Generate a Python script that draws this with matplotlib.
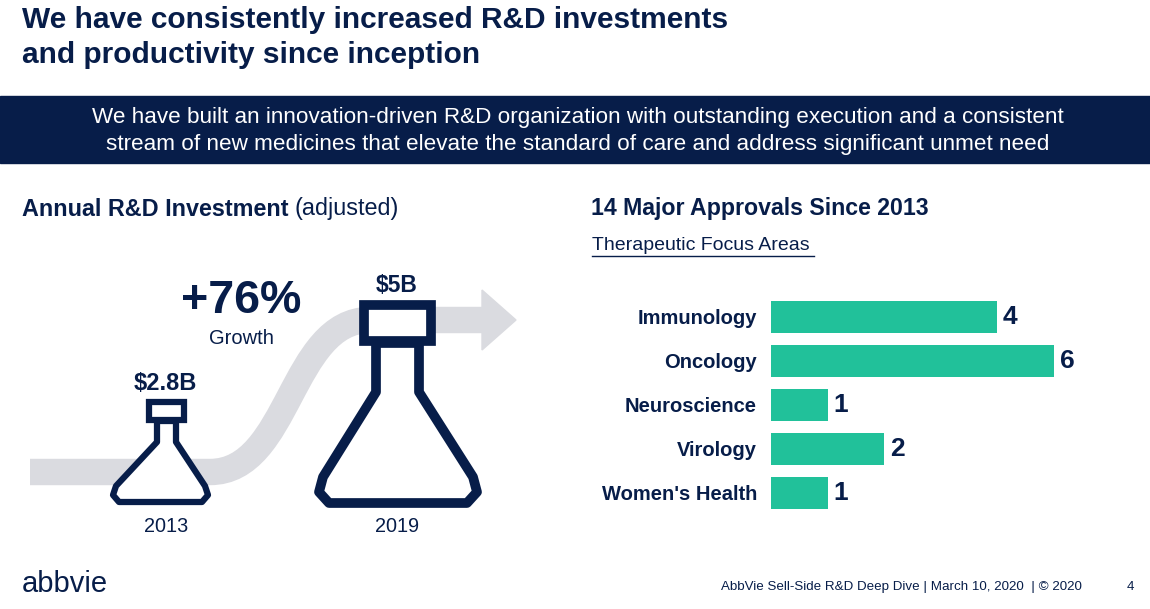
import matplotlib
matplotlib.use("Agg")
import matplotlib.pyplot as plt
from matplotlib.patches import Rectangle, Polygon, PathPatch
from matplotlib.path import Path

plt.rcParams['font.family'] = ['Liberation Sans', 'DejaVu Sans']

NAVY = '#071D49'
TEAL = '#21C19A'
GREY = '#DADBE0'

areas = ['Immunology', 'Oncology', 'Neuroscience', 'Virology', "Women's Health"]
approvals = [4, 6, 1, 2, 1]
years = ['2013', '2019']
spend = ['$2.8B', '$5B']

fig = plt.figure(figsize=(11.5, 6.09), dpi=100)
ax = fig.add_axes([0, 0, 1, 1])
ax.set_xlim(0, 1150)
ax.set_ylim(609, 0)
ax.axis('off')

# title and banner
ax.text(22, 6, 'We have consistently increased R&D investments\nand productivity since inception',
        fontsize=21.5, fontweight='bold', color=NAVY, va='top', linespacing=1.3)
ax.add_patch(Rectangle((0, 96), 1150, 67, color=NAVY))
ax.text(578, 131, 'We have built an innovation-driven R&D organization with outstanding execution and a consistent\n'
        'stream of new medicines that elevate the standard of care and address significant unmet need',
        fontsize=16.2, color='white', ha='center', va='center', linespacing=1.35)

# left panel
ax.text(22, 209, 'Annual R&D Investment', fontsize=16.8, fontweight='bold', color=NAVY, va='center')
ax.text(295, 209, '(adjusted)', fontsize=16.8, color=NAVY, va='center')

arrow = Path([(30, 472), (210, 472), (290, 472), (290, 320), (370, 320), (485, 320)],
             [Path.MOVETO, Path.LINETO, Path.CURVE4, Path.CURVE4, Path.CURVE4, Path.LINETO])
ax.add_patch(PathPatch(arrow, fill=False, edgecolor=GREY, lw=19, capstyle='butt'))
ax.add_patch(Polygon([(482, 290), (516, 320), (482, 350)], color=GREY))

small = [(157, 421), (157, 442), (116, 486), (113, 495), (119, 502), (202, 502),
         (208, 495), (205, 486), (176, 442), (176, 421)]
ax.add_patch(Polygon(small, closed=True, facecolor='white', edgecolor=NAVY, lw=4.5, joinstyle='round'))
ax.add_patch(Rectangle((149, 402), 35, 18, facecolor='white', edgecolor=NAVY, lw=4.5))

big = [(376, 343), (376, 392), (323, 477), (319, 492), (329, 503), (467, 503),
       (477, 492), (473, 477), (419, 392), (419, 343)]
ax.add_patch(Polygon(big, closed=True, facecolor='white', edgecolor=NAVY, lw=7, joinstyle='round'))
ax.add_patch(Rectangle((364, 305), 67, 36, facecolor='white', edgecolor=NAVY, lw=7))

ax.text(165, 384, spend[0], fontsize=17, fontweight='bold', color=NAVY, ha='center', va='center')
ax.text(397, 286, spend[1], fontsize=16.5, fontweight='bold', color=NAVY, ha='center', va='center')
ax.text(166, 527, years[0], fontsize=14.3, color=NAVY, ha='center', va='center')
ax.text(397, 527, years[1], fontsize=14.3, color=NAVY, ha='center', va='center')
ax.text(241, 301, '+76%', fontsize=33.5, fontweight='bold', color=NAVY, ha='center', va='center')
ax.text(241, 339, 'Growth', fontsize=14.5, color=NAVY, ha='center', va='center')

# right panel
ax.text(591, 209, '14 Major Approvals Since 2013', fontsize=16.7, fontweight='bold', color=NAVY, va='center')
ax.text(592, 246, 'Therapeutic Focus Areas', fontsize=14, color=NAVY, va='center')
ax.plot([592, 814], [256, 256], color=NAVY, lw=1)

# footer
ax.text(22, 584, 'abbvie', fontsize=21, color=NAVY, va='center')
ax.text(1082, 587, 'AbbVie Sell-Side R&D Deep Dive | March 10, 2020  | © 2020', fontsize=9.6,
        color=NAVY, ha='right', va='center')
ax.text(1130, 587, '4', fontsize=9.6, color=NAVY, ha='center', va='center')

# bar chart (longest bar runs off the scale, as on the slide)
xmax = 5
bx = fig.add_axes([771 / 1150, 1 - 515 / 609, (1054 - 771) / 1150, 220 / 609])
pos = range(len(areas))
bx.barh(pos, approvals, height=0.72, color=TEAL)
bx.set_xlim(0, xmax)
bx.set_ylim(len(areas) - 0.5, -0.5)
bx.set_yticks(list(pos))
bx.set_yticklabels(areas, fontsize=14.5, fontweight='bold', color=NAVY)
bx.tick_params(axis='y', length=0, pad=10)
bx.set_xticks([])
for s in bx.spines.values():
    s.set_visible(False)
for i, v in enumerate(approvals):
    bx.text(min(v, xmax) + 0.1, i, str(v), fontsize=19, fontweight='bold', color=NAVY,
            va='center', clip_on=False)
bx.patch.set_alpha(0)

fig.savefig('out.png', dpi=100)
